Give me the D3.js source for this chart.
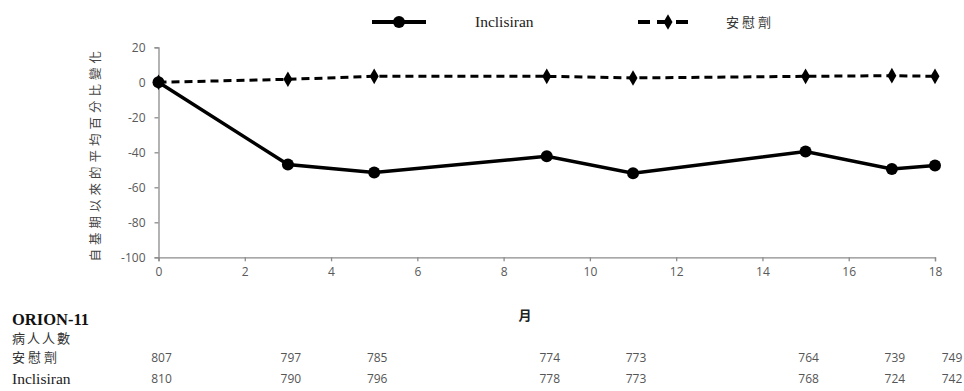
<!DOCTYPE html>
<html><head><meta charset="utf-8">
<script src="https://cdn.jsdelivr.net/npm/d3@7"></script>
<style>
body{margin:0;background:#fff;}
svg{display:block;}
</style></head>
<body><div id="chart"></div>
<script>
const months = [0, 3, 5, 9, 11, 15, 17, 18];
const inclisiran = [0, -47, -51.5, -42.3, -52, -39.6, -49.5, -47.6];
const placebo = [0, 1.7, 3.4, 3.4, 2.5, 3.4, 3.8, 3.4];
const nPlacebo = [807, 797, 785, 774, 773, 764, 739, 749];
const nInclisiran = [810, 790, 796, 778, 773, 768, 724, 742];
const xTicks = [0, 2, 4, 6, 8, 10, 12, 14, 16, 18];
const yTicks = [20, 0, -20, -40, -60, -80, -100];
const seriesNames = ["Inclisiran", "安慰劑"];
const yTitle = "自基期以來的平均百分比變化";
const xTitle = "月";
const tableTitle = "ORION-11";
const tableSub = "病人人數";

const W = 964, H = 391;
const svg = d3.select("#chart").append("svg").attr("width", W).attr("height", H);
const x = d3.scaleLinear().domain([0, 18]).range([158.5, 935]);
const y = d3.scaleLinear().domain([-100, 20]).range([257.3, 47.3]);
const axisColor = "#8c8c8c";
const labelColor = "#595959";

// axes
const xa = svg.append("g").attr("transform", `translate(0,${y(-100)})`)
  .call(d3.axisBottom(x).tickValues(xTicks).tickSize(4).tickPadding(6).tickFormat(d3.format("d")));
const ya = svg.append("g").attr("transform", `translate(${x(0)},0)`)
  .call(d3.axisLeft(y).tickValues(yTicks).tickSize(4).tickPadding(9).tickFormat(d => d));
[xa, ya].forEach(a => {
  a.select(".domain").attr("stroke", axisColor).attr("stroke-width", 1.3);
  a.selectAll(".tick line").attr("stroke", axisColor).attr("stroke-width", 1.3);
  a.selectAll("text").attr("fill", labelColor).style("font-family", "'Open Sans', 'Liberation Sans', sans-serif").style("font-size", "12px");
});

// y title
svg.append("text").attr("transform", `translate(94,${y(-40)+2}) rotate(-90)`)
  .attr("text-anchor", "middle").attr("dominant-baseline", "central")
  .style("font-family", "'Noto Sans CJK TC', sans-serif").style("font-size", "12.5px")
  .style("letter-spacing", "4px").attr("fill", "#444").text(yTitle);

// x title
svg.append("text").attr("x", 525).attr("y", 320).attr("text-anchor", "middle")
  .style("font-family", "'Noto Sans CJK TC', sans-serif").style("font-size", "13px").style("font-weight", "bold")
  .attr("fill", "#222").text(xTitle);

// lines
const lineGen = vals => d3.line().x((d, i) => x(months[i])).y(d => y(d))(vals);
svg.append("path").attr("d", lineGen(placebo)).attr("fill", "none").attr("stroke", "#000")
  .attr("stroke-width", 3).attr("stroke-dasharray", "8,5");
svg.append("path").attr("d", lineGen(inclisiran)).attr("fill", "none").attr("stroke", "#000")
  .attr("stroke-width", 3.5);

const diamond = d3.symbol().type(d3.symbolDiamond).size(70);
svg.selectAll(".pm").data(placebo).enter().append("path")
  .attr("transform", (d, i) => `translate(${x(months[i])},${y(d)})`).attr("d", diamond()).attr("fill", "#000");
svg.selectAll(".im").data(inclisiran).enter().append("circle")
  .attr("cx", (d, i) => x(months[i])).attr("cy", d => y(d)).attr("r", 6).attr("fill", "#000");

// legend
const lg = svg.append("g");
lg.append("line").attr("x1", 372).attr("x2", 426).attr("y1", 22).attr("y2", 22).attr("stroke", "#000").attr("stroke-width", 4);
lg.append("circle").attr("cx", 399).attr("cy", 22).attr("r", 6).attr("fill", "#000");
lg.append("text").attr("x", 475).attr("y", 27).text(seriesNames[0])
  .style("font-family", "'Liberation Serif', serif").style("font-size", "15.5px").attr("fill", "#222");
lg.append("line").attr("x1", 638).attr("x2", 693).attr("y1", 22).attr("y2", 22).attr("stroke", "#000").attr("stroke-width", 4)
  .attr("stroke-dasharray", "12,7");
lg.append("path").attr("transform", "translate(668,22)").attr("d", diamond()).attr("fill", "#000");
lg.append("text").attr("x", 726).attr("y", 27).text(seriesNames[1])
  .style("font-family", "'Noto Sans CJK TC', sans-serif").style("font-size", "13px").style("letter-spacing", "3px").attr("fill", "#333");

// table
svg.append("text").attr("x", 12).attr("y", 325).text(tableTitle)
  .style("font-family", "'Liberation Serif', serif").style("font-size", "16.5px").style("font-weight", "bold").attr("fill", "#111");
svg.append("text").attr("x", 12).attr("y", 343).text(tableSub)
  .style("font-family", "'Noto Sans CJK TC', sans-serif").style("font-size", "13px").style("letter-spacing", "2px").attr("fill", "#333");
svg.append("text").attr("x", 12).attr("y", 362).text(seriesNames[1])
  .style("font-family", "'Noto Sans CJK TC', sans-serif").style("font-size", "13px").style("letter-spacing", "3px").attr("fill", "#333");
svg.append("text").attr("x", 12).attr("y", 384).text(seriesNames[0])
  .style("font-family", "'Liberation Serif', serif").style("font-size", "15.5px").attr("fill", "#222");

const numStyle = sel => sel.style("font-family", "'Open Sans', 'Liberation Sans', sans-serif").style("font-size", "12px").attr("fill", "#555").attr("text-anchor", "middle");
svg.selectAll(".np").data(nPlacebo).enter().append("text")
  .attr("x", (d, i) => x(months[i]) + (i === months.length - 1 ? 17 : 3)).attr("y", 362).text(d => d).call(numStyle);
svg.selectAll(".ni").data(nInclisiran).enter().append("text")
  .attr("x", (d, i) => x(months[i]) + (i === months.length - 1 ? 17 : 3)).attr("y", 383).text(d => d).call(numStyle);
</script></body></html>
